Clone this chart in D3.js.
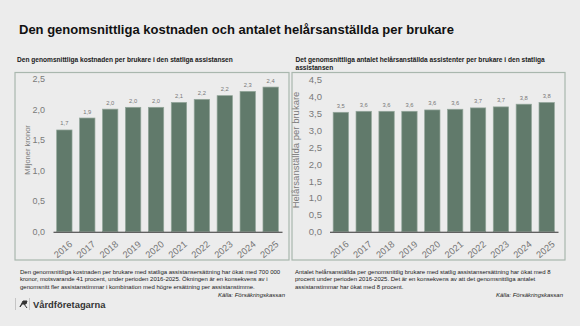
<!DOCTYPE html>
<html><head><meta charset="utf-8">
<script src="https://cdn.jsdelivr.net/npm/d3@7"></script>
<style>
html,body{margin:0;padding:0;background:#ececec;}
svg{display:block;font-family:"Liberation Sans",Arial,sans-serif;}
</style></head>
<body>
<svg id="c" width="580" height="326"></svg>
<script>
const years = ["2016","2017","2018","2019","2020","2021","2022","2023","2024","2025"];
const costValues = [1.66, 1.855, 2.0, 2.03, 2.03, 2.11, 2.16, 2.22, 2.29, 2.36];
const staffValues = [3.53, 3.56, 3.56, 3.56, 3.60, 3.62, 3.66, 3.69, 3.77, 3.82];
const costTicks = [0, 0.5, 1.0, 1.5, 2.0, 2.5];
const staffTicks = [0, 0.5, 1.0, 1.5, 2.0, 2.5, 3.0, 3.5, 4.0, 4.5];

const mainTitle = "Den genomsnittliga kostnaden och antalet helårsanställda per brukare";
const leftTitle = ["Den genomsnittliga kostnaden per brukare i den statliga assistansen"];
const rightTitle = ["Det genomsnittliga antalet helårsanställda assistenter per brukare i den statliga", "assistansen"];
const leftYLabel = "Miljoner kronor";
const rightYLabel = "Helårsanställda per brukare";
const leftNote = ["Den genomsnittliga kostnaden per brukare med statliga assistansersättning har ökat med 700 000",
  "kronor, motsvarande 41 procent, under perioden 2016-2025. Ökningen är en konsekvens av i",
  "genomsnitt fler assistanstimmar i kombination med högre ersättning per assistanstimme."];
const rightNote = ["Antalet helårsanställda per genomsnittlig brukare med statlig assistansersättning har ökat med 8",
  "procent under perioden 2016-2025. Det är en konsekvens av att det genomsnittliga antalet",
  "assistanstimmar har ökat med 8 procent."];
const source = "Källa: Försäkringskassan";
const brand = "Vårdföretagarna";

const svg = d3.select("#c");
const fmt = v => d3.format(".1f")(v).replace(".", ",");
const BAR = "#617a6b";

svg.append("rect").attr("width",580).attr("height",326).attr("fill","#ececec");

svg.append("text").attr("x",19).attr("y",33.5).attr("font-size",13).attr("font-weight","bold")
  .attr("fill","#111").text(mainTitle);

function panel(o){
  const g = svg.append("g");
  o.title.forEach((t,i)=>{
    g.append("text").attr("x",o.titleX).attr("y",61.8+i*7.8).attr("font-size",6.6)
      .attr("font-weight","bold").attr("fill","#1a1a1a").text(t);
  });
  g.append("rect").attr("x",o.box[0]).attr("y",o.box[1]).attr("width",o.box[2]-o.box[0])
    .attr("height",o.box[3]-o.box[1]).attr("fill","none").attr("stroke","#a9b7ae").attr("stroke-width",1.2);

  const x = d3.scaleBand().domain(years).range(o.xr).paddingInner(0.33).paddingOuter(0.16);
  const y = d3.scaleLinear().domain([0,o.max]).range(o.yr);

  const ya = g.append("g").attr("transform",`translate(${o.xr[0]},0)`)
    .call(d3.axisLeft(y).tickValues(o.ticks).tickFormat(fmt).tickSize(0).tickPadding(o.tickPad));
  ya.select(".domain").remove();
  ya.selectAll("text").attr("font-size",o.tickFs).attr("fill","#7a7a7a").attr("font-family",null);

  g.selectAll("rect.bar").data(o.values).join("rect").attr("class","bar")
    .attr("x",(d,i)=>x(years[i])).attr("width",x.bandwidth())
    .attr("y",d=>y(d)).attr("height",d=>y(0)-y(d))
    .attr("fill",BAR).attr("stroke","#93a69a").attr("stroke-width",0.7);

  g.selectAll("text.val").data(o.values).join("text").attr("class","val")
    .attr("x",(d,i)=>x(years[i])+x.bandwidth()/2).attr("y",d=>y(d)-4.5)
    .attr("text-anchor","middle").attr("font-size",5.8).attr("fill","#777").text(fmt);

  const xa = g.append("g").attr("transform",`translate(0,${y(0)})`)
    .call(d3.axisBottom(x).tickSize(0).tickPadding(4));
  xa.select(".domain").attr("stroke","#333").attr("stroke-width",1.1);
  xa.selectAll("text").attr("font-size",o.yearFs).attr("fill","#777").attr("font-family",null)
    .attr("text-anchor","end").attr("dy","0.35em")
    .attr("transform","translate(4,8) rotate(-40)");

  g.append("text").attr("transform",`translate(${o.ylx},${o.yly}) rotate(-90)`)
    .attr("text-anchor","middle").attr("font-size",o.ylFs).attr("fill","#7a7a7a").text(o.ylabel);

  o.note.forEach((t,i)=>{
    g.append("text").attr("x",o.noteX).attr("y",273.5+i*7.5).attr("font-size",6)
      .attr("fill","#1a1a1a").text(t);
  });
  g.append("text").attr("x",o.srcX).attr("y",297).attr("text-anchor","end")
    .attr("font-size",6).attr("font-style","italic").attr("fill","#1a1a1a").text(source);
}

panel({title:leftTitle,titleX:17,box:[15,72.5,289,260],xr:[53,282],yr:[231.7,78.5],max:2.5,
  ticks:costTicks,values:costValues,tickPad:8,tickFs:9,yearFs:9.3,ylabel:leftYLabel,ylx:30,yly:150,ylFs:7.5,
  note:leftNote,noteX:20,srcX:285});
panel({title:rightTitle,titleX:295.5,box:[292,72.5,565,260],xr:[329.5,558],yr:[231.7,79.5],max:4.5,
  ticks:staffTicks,values:staffValues,tickPad:7.5,tickFs:9.5,yearFs:9.3,ylabel:rightYLabel,ylx:299,yly:150,ylFs:9.5,
  note:rightNote,noteX:295,srcX:563});

const b = svg.append("g");
b.append("line").attr("x1",15.5).attr("x2",15.5).attr("y1",298).attr("y2",310).attr("stroke","#bbb").attr("stroke-width",0.8);
b.append("line").attr("x1",29.5).attr("x2",29.5).attr("y1",298).attr("y2",310).attr("stroke","#bbb").attr("stroke-width",0.8);
b.append("path").attr("d","M20,307 L23,301 L27,301 L26,304 L22,304 Z M24,304 L27,308").attr("fill","#333").attr("stroke","#333").attr("stroke-width",1);
b.append("text").attr("x",33).attr("y",307.8).attr("font-size",9.4).attr("font-weight","bold").attr("fill","#333").text(brand);
</script>
</body></html>
